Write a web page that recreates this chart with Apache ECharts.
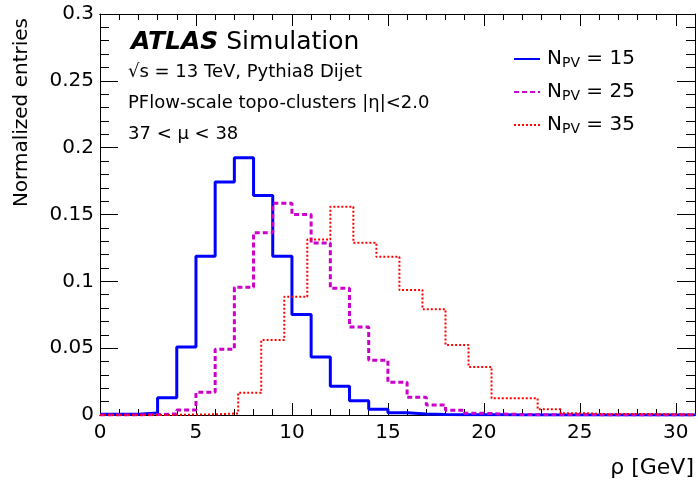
<!DOCTYPE html>
<html>
<head>
<meta charset="utf-8">
<script src="https://cdn.jsdelivr.net/npm/echarts@6/dist/echarts.min.js"></script>
<style>
  html, body { margin: 0; padding: 0; background: #fff; }
  #chart { width: 698px; height: 487px; }
</style>
</head>
<body>
<div id="chart"></div>
<script>
// 直方图数据 (rho [GeV]，归一化)
const edges1 = [0,1,2,3,4,5,6,7,8,9,10,11,12,13,14,15,16,17,18,19,20,21,22,23,24,25,26,27,28,29,30,31];
const edges12 = [0,1.2,2.4,3.6,4.8,6.0,7.2,8.4,9.6,10.8,12.0,13.2,14.4,15.6,16.8,18.0,19.2,20.4,21.6,22.8,24.0,25.2,26.4,27.6,28.8,30.0,31.2];

const npv15 = [0.0005,0.0005,0.0015,0.0129,0.0509,0.1187,0.1743,0.1925,0.1642,0.1187,
  0.0751,0.0434,0.0215,0.0107,0.0043,0.0017,0.0008,0.0004,0.0002,0.0001,
  0.0001,0,0,0,0,0,0,0,0,0,0];
const npv25 = [0,0,0.0003,0.0008,0.0037,0.017,0.0492,0.0955,0.1364,0.1584,
  0.15,0.1287,0.0948,0.0658,0.0409,0.0245,0.0132,0.0075,0.0035,0.0013,
  0.0007,0.0004,0.0002,0.0001,0.0001,0.0001,0,0,0,0,0];
const npv35 = [0,0,0,0.0003,0.0005,0.0012,0.0167,0.0561,0.0885,0.1313,
  0.1558,0.1289,0.1184,0.0935,0.0791,0.0524,0.036,0.0125,0.0125,0.0043,
  0.0014,0.0006,0.0008,0.0007,0.0005,0.0004];

const npvNames = ['15', '25', '35'];
const xTickLabels = [0, 5, 10, 15, 20, 25, 30];

const FONT = 'DejaVu Sans';

// 阶梯折线: 每个 bin 的左边界 + 最后一个右边界
function stepData(edges, vals) {
  const out = vals.map((v, i) => [edges[i], v]);
  out.push([edges[vals.length], vals[vals.length - 1]]);
  return out;
}

function xAxisCfg(pos, interval, len, labels) {
  return {
    type: 'value', position: pos, min: 0, max: 31, interval: interval,
    axisLine: { show: true, onZero: false, lineStyle: { color: '#000', width: 1 } },
    axisTick: { show: true, inside: true, length: len, lineStyle: { color: '#000', width: 1 } },
    axisLabel: labels ? {
      show: true, color: '#000', fontFamily: FONT, fontSize: 20, margin: 8,
      showMaxLabel: false,
      formatter: v => (xTickLabels.indexOf(v) >= 0 ? String(v) : '')
    } : { show: false },
    splitLine: { show: false }
  };
}

function yAxisCfg(pos, labels) {
  return {
    type: 'value', position: pos, min: 0, max: 0.3, interval: 0.05,
    axisLine: { show: true, onZero: false, lineStyle: { color: '#000', width: 1 } },
    axisTick: { show: true, inside: true, length: 18, lineStyle: { color: '#000', width: 1 } },
    minorTick: { show: true, splitNumber: 5, length: 9, lineStyle: { color: '#000', width: 1 } },
    axisLabel: labels ? { show: true, color: '#000', fontFamily: FONT, fontSize: 20, margin: 6 } : { show: false },
    splitLine: { show: false }, minorSplitLine: { show: false }
  };
}

const chart = echarts.init(document.getElementById('chart'));

const option = {
  backgroundColor: '#fff',
  animation: false,
  grid: { left: 100, right: 3, top: 14, bottom: 72 },
  xAxis: [
    xAxisCfg('bottom', 1, 6, true),
    xAxisCfg('bottom', 5, 12, false),
    xAxisCfg('top', 1, 6, false),
    xAxisCfg('top', 5, 12, false)
  ],
  yAxis: [yAxisCfg('left', true), yAxisCfg('right', false)],
  legend: {
    orient: 'vertical', left: 513, top: 49, padding: 0,
    itemWidth: 26, itemHeight: 14, itemGap: 12,
    data: npvNames,
    itemStyle: { opacity: 0 },
    formatter: name => '{n|N}{s|PV}{n| = ' + name + '}',
    textStyle: {
      color: '#000', fontFamily: FONT, fontSize: 20, padding: [0, 0, 0, 2],
      rich: {
        n: { fontFamily: FONT, fontSize: 20, lineHeight: 22, color: '#000' },
        s: { fontFamily: FONT, fontSize: 14, lineHeight: 5, verticalAlign: 'bottom', color: '#000' }
      }
    }
  },
  series: [
    {
      name: npvNames[0], type: 'line', step: 'end', symbol: 'none',
      data: stepData(edges1, npv15),
      lineStyle: { color: '#0000ff', width: 3, type: 'solid' },
      itemStyle: { color: '#0000ff' }, z: 2
    },
    {
      name: npvNames[1], type: 'line', step: 'end', symbol: 'none',
      data: stepData(edges1, npv25),
      lineStyle: { color: '#cc00cc', width: 3, type: [5, 3] },
      itemStyle: { color: '#cc00cc' }, z: 3
    },
    {
      name: npvNames[2], type: 'line', step: 'end', symbol: 'none',
      data: stepData(edges12, npv35),
      lineStyle: { color: '#ff0000', width: 2, type: [2, 2] },
      itemStyle: { color: '#ff0000' }, z: 4
    }
  ],
  graphic: [
    {
      type: 'text', left: 131, top: 30,
      style: {
        text: '{b|ATLAS} Simulation',
        fontFamily: FONT, fontSize: 25, fill: '#000',
        rich: { b: { fontFamily: FONT, fontSize: 25, fontWeight: 'bold', fontStyle: 'italic' } }
      }
    },
    { type: 'text', left: 128, top: 63, style: { text: '\u221As = 13 TeV, Pythia8 Dijet', fontFamily: FONT, fontSize: 18, fill: '#000' } },
    { type: 'text', left: 128, top: 94, style: { text: 'PFlow-scale topo-clusters |\u03B7|<2.0', fontFamily: FONT, fontSize: 18, fill: '#000' } },
    { type: 'text', left: 128, top: 125, style: { text: '37 < \u03BC < 38', fontFamily: FONT, fontSize: 18, fill: '#000' } },
    {
      type: 'text', x: 22, y: 18, rotation: Math.PI / 2,
      style: { text: 'Normalized entries', fontFamily: FONT, fontSize: 20, fill: '#000', align: 'right', verticalAlign: 'middle' }
    },
    {
      type: 'text', x: 694, y: 468,
      style: { text: '\u03C1 [GeV]', fontFamily: FONT, fontSize: 22, fill: '#000', align: 'right', verticalAlign: 'middle' }
    }
  ]
};

chart.setOption(option);
</script>
</body>
</html>
